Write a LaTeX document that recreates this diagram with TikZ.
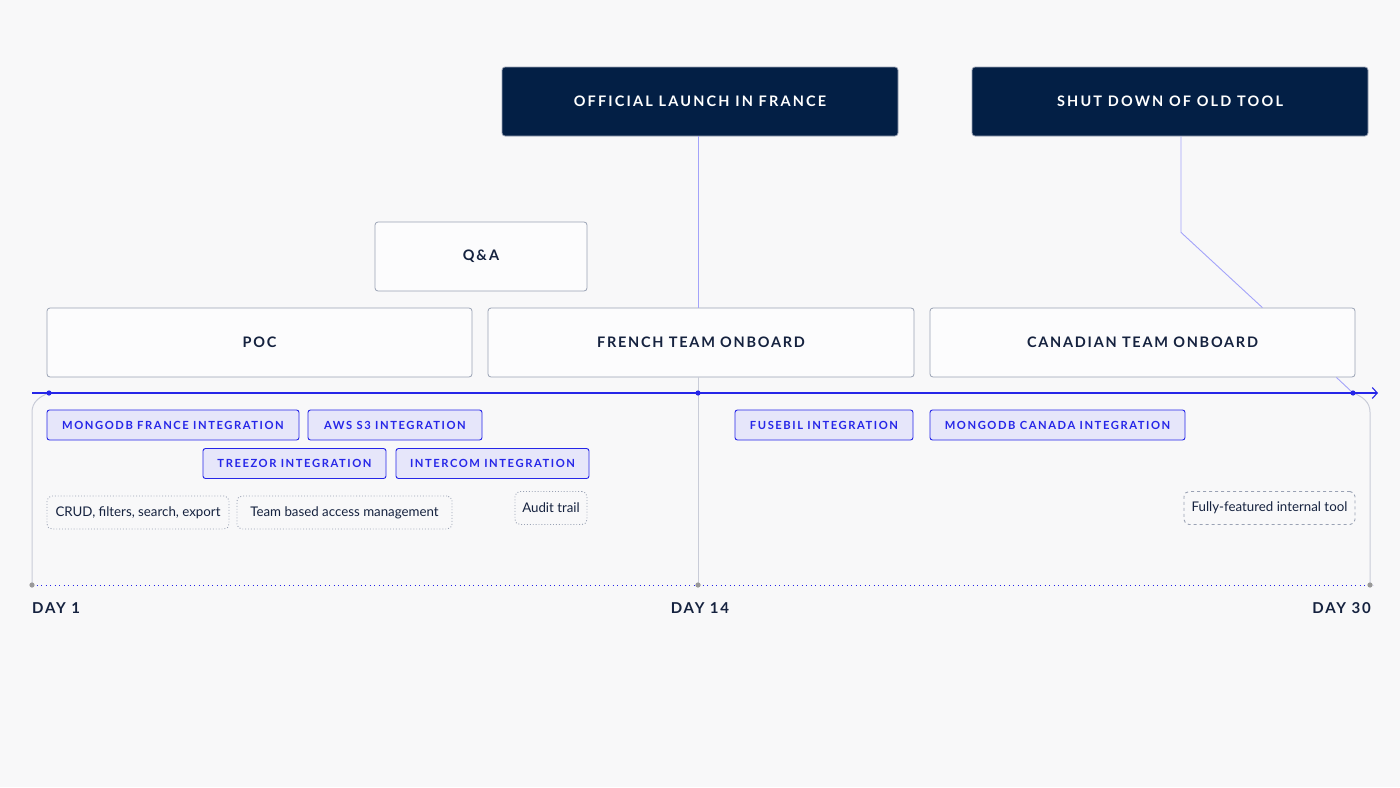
\documentclass[tikz,border=0pt]{standalone}
\usepackage{fontspec}
\setmainfont{Lato}
\newfontfamily\capsfont[LetterSpace=12]{Lato}
\newfontfamily\headfont[LetterSpace=15]{Lato}
\newfontfamily\tagfont[LetterSpace=14]{Lato}
\usetikzlibrary{arrows.meta}
\definecolor{bgc}{HTML}{F8F8F9}
\definecolor{navy}{HTML}{031F45}
\definecolor{ink}{HTML}{15223F}
\definecolor{edge}{HTML}{9AA2B4}
\definecolor{tagblue}{HTML}{2626E8}
\definecolor{tagfill}{HTML}{E6E6FA}
\definecolor{lilac}{HTML}{A3A3FA}
\definecolor{pale}{HTML}{C9CCD8}
\begin{document}
\begin{tikzpicture}
  [x=1pt, y=-1pt,
   milestone/.style={rectangle, rounded corners=3pt, fill=navy, draw=edge, line width=.8pt,
     minimum width=396pt, minimum height=69pt, text=white, font=\headfont\bfseries\fontsize{14.5}{16}\selectfont},
   phase/.style={rectangle, rounded corners=3pt, fill=white!60!bgc, draw=edge, line width=.8pt,
     minimum height=69pt, text=ink, font=\capsfont\bfseries\fontsize{14.5}{17}\selectfont},
   tag/.style={rectangle, rounded corners=2.5pt, fill=tagfill, draw=tagblue, line width=.9pt,
     minimum height=30pt, text=tagblue, font=\tagfont\bfseries\fontsize{11.2}{13}\selectfont},
   note/.style={rectangle, rounded corners=5pt, draw=edge, line width=.9pt, dotted,
     minimum height=33pt, inner xsep=7pt, text=ink, font=\fontsize{13.3}{15}\selectfont},
   day/.style={text=ink, inner sep=0pt, font=\capsfont\bfseries\fontsize{15}{18}\selectfont},
   timeline/.style={draw=tagblue, line width=1.1pt},
   launchline/.style={draw=lilac, line width=.9pt},
   greyline/.style={draw=pale, line width=1pt}]

  \fill[bgc] (0,0) rectangle (1400,787);
  \useasboundingbox (0,0) rectangle (1400,787);

  % milestones
  \node[milestone] (launch) at (700,101.5) {OFFICIAL LAUNCH IN FRANCE};
  \node[milestone] (shut) at (1170,101.5) {SHUT DOWN OF OLD TOOL};

  % phases
  \node[phase, minimum width=212pt] (qa) at (481,256.5) {Q\&A};
  \node[phase, minimum width=425pt] (poc) at (259.5,342.5) {POC};
  \node[phase, minimum width=426pt] (french) at (701,342.5) {FRENCH TEAM ONBOARD};
  \node[phase, minimum width=425pt] (canada) at (1142.5,342.5) {CANADIAN TEAM ONBOARD};

  % timeline
  \coordinate (t0) at (32,393);
  \coordinate (tEnd) at (1378,393);
  \coordinate (d1) at (49,393);
  \coordinate (d14) at (698,393);
  \coordinate (d30) at (1353,393);
  \coordinate (b1) at (32,585);
  \coordinate (b14) at (698,585);
  \coordinate (b30) at (1370,585);

  \draw[launchline] (launch.south -| d14) -- (french.north -| d14);
  \draw[launchline] ([xshift=11pt]shut.south) -- ++(0,96) -- ([xshift=-93pt]canada.north east);
  \draw[launchline] ([xshift=-19pt]canada.south east) -- (d30);
  \draw[greyline] (french.south -| d14) -- (b14);
  \draw[greyline] (d1) to[out=200,in=90] (32,412) -- (b1);
  \draw[greyline] (d30) to[out=-20,in=90] (1370,412) -- (b30);

  \draw[timeline, -{Straight Barb[length=5pt,width=11pt]}] (t0) -- (tEnd);
  \draw[tagblue, line width=.9pt, dash pattern=on .9pt off 3.6pt] (b1) -- (1373,585);
  \foreach \d in {d1,d14,d30}
    \fill[tagblue] (\d) circle (2.6);
  \foreach \d in {b1,b14,b30}
    \fill[gray!80] (\d) circle (2.6);

  % integrations
  \node[tag, minimum width=252pt] (mongofr) at (173,425) {MONGODB FRANCE INTEGRATION};
  \node[tag, minimum width=174pt] (aws) at (395,425) {AWS S3 INTEGRATION};
  \node[tag, minimum width=183pt] (treezor) at (294.5,463.5) {TREEZOR INTEGRATION};
  \node[tag, minimum width=193pt] (intercom) at (492.5,463.5) {INTERCOM INTEGRATION};
  \node[tag, minimum width=178pt] (fusebil) at (824,425) {FUSEBIL INTEGRATION};
  \node[tag, minimum width=255pt] (mongoca) at (1057.5,425) {MONGODB CANADA INTEGRATION};

  % features
  \node[note, minimum width=182pt] (crud) at (138,512.5) {CRUD, filters, search, export};
  \node[note, minimum width=215pt] (access) at (344.5,512.5) {Team based access management};
  \node[note, minimum width=72pt] (audit) at (551,508) {Audit trail};
  \node[note, dashed, minimum width=171pt] (full) at (1269.5,508) {Fully-featured internal tool};

  % days
  \node[day, anchor=west] (day1) at (b1 |- 0,608) {DAY 1};
  \node[day] (day14) at (700,608) {DAY 14};
  \node[day, anchor=east] (day30) at (1371,608) {DAY 30};
\end{tikzpicture}
\end{document}
